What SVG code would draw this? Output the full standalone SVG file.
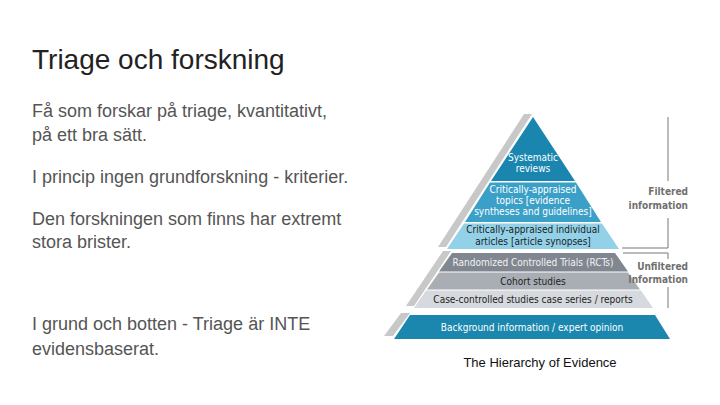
<svg xmlns="http://www.w3.org/2000/svg" width="720" height="405" viewBox="0 0 720 405">
<style>
.title{font-family:"Liberation Sans",Arial,sans-serif;font-size:28px;fill:#222}
.body{font-family:"Liberation Sans",Arial,sans-serif;font-size:18px;fill:#555}
.pt{font-family:"DejaVu Sans Condensed","DejaVu Sans",sans-serif;font-stretch:condensed;font-size:10px;text-anchor:middle}
.w{fill:#ffffff}
.d{fill:#1e1e1e}
.side{font-family:"DejaVu Sans Condensed","DejaVu Sans",sans-serif;font-stretch:condensed;font-size:10px;font-weight:bold;fill:#707070;text-anchor:end}
.shadow{fill:#c8c8c8}
.br{stroke:#777;stroke-width:1;fill:none}
.cap{font-family:"Liberation Sans",Arial,sans-serif;font-size:13px;fill:#111;text-anchor:middle}
</style>
<rect width="720" height="405" fill="#ffffff"/>
<g id="text-left">
<text class="title" x="32" y="69">Triage och forskning</text>
<text class="body" x="32" y="117">Få som forskar på triage, kvantitativt,</text>
<text class="body" x="32" y="141">på ett bra sätt.</text>
<text class="body" x="32" y="183">I princip ingen grundforskning - kriterier.</text>
<text class="body" x="32" y="225">Den forskningen som finns har extremt</text>
<text class="body" x="32" y="248">stora brister.</text>
<text class="body" x="32" y="330">I grund och botten - Triage är INTE</text>
<text class="body" x="32" y="355">evidensbaserat.</text>
</g>
<g id="pyramid">
<polygon class="shadow" points="524,114 438,247 446,247 532,114"/>
<polygon class="shadow" points="443,251 406,306 414,306 451,251"/>
<polygon class="shadow" points="401,313 384,336 393,336 410,313"/>
<g id="systematic">
<polygon fill="#1a86b0" points="533,117 491,181 575,181"/>
<text class="pt w" x="533" y="161">Systematic</text>
<text class="pt w" x="533" y="172">reviews</text>
</g>
<g id="topics">
<polygon fill="#3ba0c8" points="490,182.5 576,182.5 601,222 465,222"/>
<text class="pt w" x="533" y="193">Critically-appraised</text>
<text class="pt w" x="533" y="204">topics [evidence</text>
<text class="pt w" x="533" y="215">syntheses and guidelines]</text>
</g>
<g id="articles">
<polygon fill="#93d1e9" points="464,223.5 602,223.5 619,249 447,249"/>
<text class="pt d" x="533" y="233">Critically-appraised individual</text>
<text class="pt d" x="533" y="245">articles [article synopses]</text>
</g>
<g id="rct">
<polygon fill="#808790" points="452,253 615,253 628,271.5 439,271.5"/>
<text class="pt" x="533" y="266" fill="#f2f2f2">Randomized Controlled Trials (RCTs)</text>
</g>
<g id="cohort">
<polygon fill="#a9aeb5" points="439,272.5 628,272.5 640,289.5 427,289.5"/>
<text class="pt d" x="533" y="285">Cohort studies</text>
</g>
<g id="case">
<polygon fill="#d6d9dd" points="426,290.5 641,290.5 653,308 414,308"/>
<text class="pt d" x="533" y="303">Case-controlled studies case series / reports</text>
</g>
<g id="background">
<polygon fill="#1c87ae" points="410,315 655,315 670,339 394,339"/>
<text class="pt w" x="532" y="331">Background information / expert opinion</text>
</g>
</g>
<g id="connectors">
<path class="br" d="M668,117 V181"/>
<path class="br" d="M668,218 V248 H622"/>
<path class="br" d="M623,253 H668 V259"/>
<path class="br" d="M668,287 V308"/>
</g>
<g id="labels">
<text class="side" x="688" y="195">Filtered</text>
<text class="side" x="688" y="209">information</text>
<text class="side" x="688" y="270">Unfiltered</text>
<text class="side" x="688" y="283">Information</text>
</g>
<g id="caption">
<text class="cap" x="540" y="367">The Hierarchy of Evidence</text>
</g>
</svg>
